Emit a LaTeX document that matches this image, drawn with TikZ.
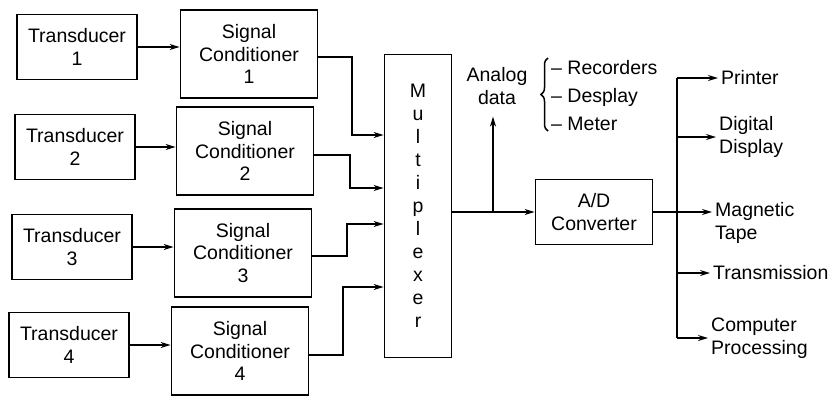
\documentclass[tikz,border=0pt]{standalone}
\usepackage{fontspec}
\setmainfont{Liberation Sans}
\usetikzlibrary{arrows.meta,decorations.pathreplacing}

\tikzset{
  blk/.style={draw, line width=1.8pt, align=center, inner sep=0pt},
  tbox/.style={blk, minimum width=120, minimum height=65},
  scbox/.style={blk, minimum width=137, minimum height=88},
  lbl/.style={anchor=west, align=left, inner sep=3pt},
  wire/.style={line width=1.5pt},
  arr/.style={wire, -{Stealth[length=10pt,width=6pt]}}
}

\begin{document}
\begin{tikzpicture}[x=1pt,y=-1pt,font=\fontsize{19.5}{22.5}\selectfont]
  \useasboundingbox (0,0) rectangle (833,400);

  % transducers and signal conditioners
  \node[tbox] (t1) at (77,47) {Transducer\\1};
  \node[tbox] (t2) at (75,147) {Transducer\\2};
  \node[tbox] (t3) at (72,247) {Transducer\\3};
  \node[tbox] (t4) at (69,345) {Transducer\\4};

  \node[scbox] (sc1) at (249,54) {Signal\\Conditioner\\1};
  \node[scbox] (sc2) at (245,151) {Signal\\Conditioner\\2};
  \node[scbox] (sc3) at (243,253) {Signal\\Conditioner\\3};
  \node[scbox] (sc4) at (240,351) {Signal\\Conditioner\\4};

  \foreach \i in {1,...,4}
    \draw[arr] (t\i.east) -- (t\i.east -| sc\i.west);

  % multiplexer
  \node[blk, minimum width=67, minimum height=303,
        font=\fontsize{19.5}{23}\selectfont] (mux) at (418,206)
        {M\\u\\l\\t\\i\\p\\l\\e\\x\\e\\r};

  \draw[arr] (sc1.east |- 0,57) -| (352,135) -- (mux.west |- 0,135);
  \draw[arr] (sc2.east |- 0,155) -| (350,188) -- (mux.west |- 0,188);
  \draw[arr] (sc3.east |- 0,256) -| (347,224) -- (mux.west |- 0,224);
  \draw[arr] (sc4.east |- 0,355) -| (343,287) -- (mux.west |- 0,287);

  % A/D converter and analog tap
  \node[blk, minimum width=117, minimum height=65] (ad) at (594,212) {A/D\\Converter};
  \node[align=center, inner sep=2pt] (analog) at (497,86) {Analog\\data};
  \coordinate (tap) at (493,0);

  \draw[arr] (mux.east |- ad.west) -- (ad.west);
  \draw[arr] (tap |- ad.west) -- ([yshift=-10pt]tap |- analog.south);

  \draw[wire, decorate, decoration={brace, amplitude=7pt}] (548,131) -- (548,58);
  \node[lbl] (rec) at (548,68) {-- Recorders};
  \node[lbl] (dsp) at (548,97) {-- Desplay};
  \node[lbl] (met) at (548,124) {-- Meter};

  % outputs
  \node[lbl] (prn) at (718,78) {Printer};
  \node[lbl] (dig) at (716,137) {Digital\\Display};
  \node[lbl] (tape) at (712,223) {Magnetic\\Tape};
  \node[lbl] (trn) at (710,273) {Transmission};
  \node[lbl] (cmp) at (708,338) {Computer\\Processing};
  \coordinate (bus) at (677,0);

  \draw[wire] (bus |- prn.west) -- (bus |- cmp.west);
  \draw[arr] (ad.east) -- (ad.east -| tape.west);
  \foreach \o in {prn,dig,trn,cmp}
    \draw[arr] (bus |- \o.west) -- (\o.west);
\end{tikzpicture}
\end{document}
